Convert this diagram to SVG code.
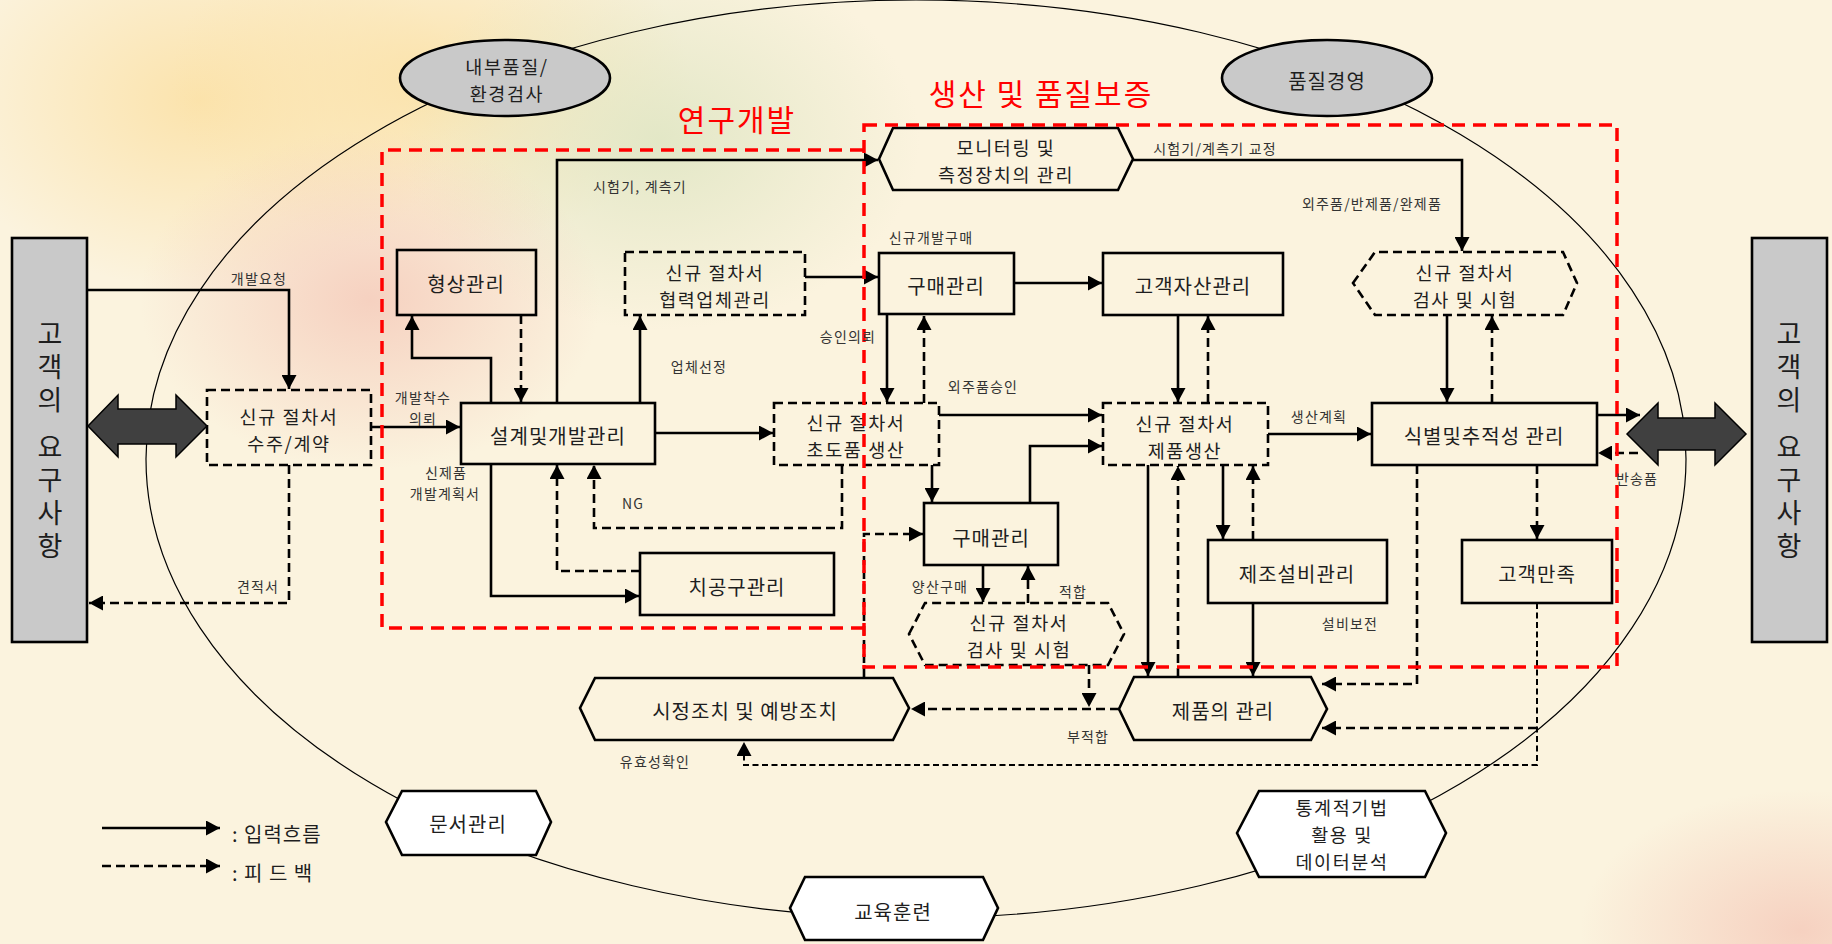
<svg xmlns="http://www.w3.org/2000/svg" width="1832" height="944" viewBox="0 0 1832 944">
<style>
text{font-family:"Noto Sans CJK KR","Noto Sans",sans-serif;fill:#1e1e1e;dominant-baseline:central;text-anchor:middle}
.t{font-size:20px;letter-spacing:1px}
.t2{font-size:18.5px;letter-spacing:1.6px}
.s{font-size:14px;letter-spacing:1.2px;fill:#333}
.vt{font-size:27px;writing-mode:vertical-rl;text-orientation:upright;text-anchor:start;letter-spacing:6px}
.title{font-size:30px;fill:#ff0000;letter-spacing:2px}
.box{fill:none;stroke:#000;stroke-width:2.6}
.dbox{fill:none;stroke:#000;stroke-width:2.6;stroke-dasharray:9 5}
.wbox{fill:#fff;stroke:#000;stroke-width:2.6}
.gray{fill:#c9c9c9;stroke:#000;stroke-width:2.6}
.c{fill:none;stroke:#000;stroke-width:2.6;marker-end:url(#ah)}
.d{fill:none;stroke:#000;stroke-width:2.6;stroke-dasharray:9 5;marker-end:url(#ah)}
.dt{fill:none;stroke:#000;stroke-width:2;stroke-dasharray:6 3.5;marker-end:url(#ah)}
.red{fill:none;stroke:#ff0000;stroke-width:3.5;stroke-dasharray:13 8}
.darr{fill:#404040;stroke:#000;stroke-width:1.5}
</style>
<defs>
<marker id="ah" markerUnits="userSpaceOnUse" markerWidth="15" markerHeight="15" refX="14" refY="7.5" orient="auto"><path d="M0,0 L14,7.5 L0,15 z" fill="#000"/></marker>
<radialGradient id="gy" cx="0.5" cy="0.5" r="0.5"><stop offset="0" stop-color="#fbe1a6" stop-opacity="0.9"/><stop offset="1" stop-color="#fbe1a6" stop-opacity="0"/></radialGradient>
<radialGradient id="gp" cx="0.5" cy="0.5" r="0.5"><stop offset="0" stop-color="#f5cbbb" stop-opacity="0.85"/><stop offset="1" stop-color="#f5cbbb" stop-opacity="0"/></radialGradient>
<radialGradient id="gg" cx="0.5" cy="0.5" r="0.5"><stop offset="0" stop-color="#e0e6c4" stop-opacity="0.9"/><stop offset="1" stop-color="#e0e6c4" stop-opacity="0"/></radialGradient>
</defs>
<g id="background">
<rect x="0" y="0" width="1832" height="944" fill="#fbf3de"/>
<ellipse cx="200" cy="100" rx="260" ry="190" fill="url(#gy)"/>
<ellipse cx="430" cy="80" rx="260" ry="170" fill="url(#gy)"/>
<ellipse cx="660" cy="140" rx="260" ry="190" fill="url(#gg)"/>
<ellipse cx="370" cy="300" rx="230" ry="170" fill="url(#gp)"/>
<ellipse cx="1800" cy="930" rx="220" ry="140" fill="url(#gp)"/>
</g>
<ellipse id="scope" cx="916" cy="459" rx="770" ry="459" fill="none" stroke="#000" stroke-width="1.2"/>

<g id="connectors">
<path class="c" d="M88,290 H289 V389"/>
<path class="c" d="M371,427 H460"/>
<path class="c" d="M491,403 V358 H412 V316"/>
<path class="c" d="M557,403 V160 H878"/>
<path class="c" d="M640,403 V316"/>
<path class="c" d="M805,277 H878"/>
<path class="c" d="M655,433 H773"/>
<path class="c" d="M491,464 V596 H639"/>
<path class="c" d="M887,314 V402"/>
<path class="c" d="M939,415 H1102"/>
<path class="c" d="M932,465 V502"/>
<path class="c" d="M1030,503 V446 H1102"/>
<path class="c" d="M983,565 V602"/>
<path class="c" d="M1014,283 H1102"/>
<path class="c" d="M1178,315 V402"/>
<path class="c" d="M1268,434 H1371"/>
<path class="c" d="M1223,465 V539"/>
<path class="c" d="M1148,465 V676"/>
<path class="c" d="M1253,603 V676"/>
<path class="c" d="M1133,160 H1462 V251"/>
<path class="c" d="M1447,315 V402"/>
<path class="c" d="M1597,415 H1640"/>
<path class="d" d="M289,465 V603 H89"/>
<path class="d" d="M521,315 V402"/>
<path class="d" d="M842,465 V528 H594 V465"/>
<path class="d" d="M640,571 H557 V465"/>
<path class="d" d="M924,403 V316"/>
<path class="d" d="M864,677 V534 H923"/>
<path class="d" d="M1028,603 V566"/>
<path class="d" d="M1208,403 V316"/>
<path class="d" d="M1253,540 V466"/>
<path class="d" d="M1178,677 V466"/>
<path class="d" d="M1492,403 V316"/>
<path class="d" d="M1537,465 V539"/>
<path class="d" d="M1638,453 H1598"/>
<path class="d" d="M1417,465 V684 H1322"/>
<path class="d" d="M1537,728 H1322"/>
<path class="dt" d="M1537,603 V765 H744 V742"/>
<path class="d" d="M1089,665 V707"/>
<path class="d" d="M1119,709 H911"/>
</g>

<g id="customer-left">
<rect class="gray" x="12" y="238" width="75" height="404"/>
<text class="vt" x="50" y="320">고객의</text>
<text class="vt" x="50" y="433">요구사항</text>
</g>
<g id="customer-right">
<rect class="gray" x="1752" y="238" width="75" height="404"/>
<text class="vt" x="1789" y="320">고객의</text>
<text class="vt" x="1789" y="433">요구사항</text>
</g>
<g id="arrow-left">
<polygon class="darr" points="88,426 118,395 118,409 176,409 176,395 207,426 176,457 176,444 118,444 118,457"/>
</g>
<g id="arrow-right">
<polygon class="darr" points="1627,434 1658,403 1658,418 1715,418 1715,403 1746,434 1715,465 1715,450 1658,450 1658,465"/>
</g>

<g id="n-iqc"><ellipse class="gray" cx="505" cy="78" rx="105" ry="38"/><text class="t2" x="507" y="65.5">내부품질/</text><text class="t2" x="507" y="92.5">환경검사</text></g>
<g id="n-qm"><ellipse class="gray" cx="1327" cy="78" rx="105" ry="38"/><text class="t" x="1327" y="80">품질경영</text></g>

<g id="n-order"><rect class="dbox" x="207" y="390" width="164" height="75"/><text class="t2" x="289" y="416">신규 절차서</text><text class="t2" x="289" y="443">수주/계약</text></g>
<g id="n-config"><rect class="box" x="397" y="250" width="139" height="65"/><text class="t" x="466" y="283">형상관리</text></g>
<g id="n-design"><rect class="box" x="461" y="403" width="194" height="61"/><text class="t" x="558" y="435">설계및개발관리</text></g>
<g id="n-partner"><rect class="dbox" x="625" y="252" width="180" height="63"/><text class="t2" x="715" y="272">신규 절차서</text><text class="t2" x="715" y="299">협력업체관리</text></g>
<g id="n-jig"><rect class="box" x="640" y="553" width="194" height="62"/><text class="t" x="737" y="586">치공구관리</text></g>
<g id="n-proto"><rect class="dbox" x="774" y="403" width="165" height="62"/><text class="t2" x="856" y="422">신규 절차서</text><text class="t2" x="856" y="449">초도품 생산</text></g>
<g id="n-monitor"><polygon class="box" points="879,159 893,128 1118,128 1133,159 1118,190 893,190"/><text class="t2" x="1006" y="147">모니터링 및</text><text class="t2" x="1006" y="174">측정장치의 관리</text></g>
<g id="n-purchase1"><rect class="box" x="879" y="253" width="135" height="61"/><text class="t" x="946" y="285">구매관리</text></g>
<g id="n-asset"><rect class="box" x="1103" y="253" width="180" height="62"/><text class="t" x="1193" y="285">고객자산관리</text></g>
<g id="n-insp1"><polygon class="dbox" points="1353,283 1375,252 1563,252 1577,283 1563,315 1375,315"/><text class="t2" x="1465" y="272">신규 절차서</text><text class="t2" x="1465" y="299">검사 및 시험</text></g>
<g id="n-prod"><rect class="dbox" x="1103" y="403" width="165" height="62"/><text class="t2" x="1185" y="422.5">신규 절차서</text><text class="t2" x="1185" y="449.5">제품생산</text></g>
<g id="n-trace"><rect class="box" x="1372" y="403" width="225" height="62"/><text class="t" x="1484" y="435">식별및추적성 관리</text></g>
<g id="n-purchase2"><rect class="box" x="924" y="503" width="134" height="62"/><text class="t" x="991" y="537">구매관리</text></g>
<g id="n-insp2"><polygon class="dbox" points="909,634 925,603 1108,603 1124,634 1108,665 925,665"/><text class="t2" x="1019" y="621.5">신규 절차서</text><text class="t2" x="1019" y="648.5">검사 및 시험</text></g>
<g id="n-equip"><rect class="box" x="1208" y="540" width="179" height="63"/><text class="t" x="1297" y="573">제조설비관리</text></g>
<g id="n-satisf"><rect class="box" x="1462" y="540" width="150" height="63"/><text class="t" x="1537" y="573">고객만족</text></g>
<g id="n-product"><polygon class="box" points="1119,709 1134,677 1311,677 1327,709 1311,740 1134,740"/><text class="t" x="1223" y="710">제품의 관리</text></g>
<g id="n-corrective"><polygon class="box" points="580,708 595,678 893,678 909,708 893,740 595,740"/><text class="t" x="745" y="710">시정조치 및 예방조치</text></g>
<g id="n-doc"><polygon class="wbox" points="386,822 402,791 536,791 551,822 536,855 402,855"/><text class="t" x="468" y="823">문서관리</text></g>
<g id="n-edu"><polygon class="wbox" points="790,908 805,877 983,877 998,908 983,940 805,940"/><text class="t" x="893" y="911">교육훈련</text></g>
<g id="n-stat"><polygon class="wbox" points="1237,833 1259,791 1425,791 1446,833 1425,877 1259,877"/><text class="t2" x="1342" y="807">통계적기법</text><text class="t2" x="1342" y="834">활용 및</text><text class="t2" x="1342" y="861">데이터분석</text></g>

<g id="frames">
<path class="red" d="M863,150 H382 V628 H863"/>
<rect class="red" x="864" y="125" width="753" height="542"/>
<text class="title" x="737" y="118">연구개발</text>
<text class="title" x="1041" y="92">생산 및 품질보증</text>
</g>

<g id="labels">
<text class="s" x="259" y="278">개발요청</text>
<text class="s" x="423" y="397">개발착수</text>
<text class="s" x="423" y="418">의뢰</text>
<text class="s" x="446" y="472">신제품</text>
<text class="s" x="445" y="493">개발계획서</text>
<text class="s" x="258" y="586">견적서</text>
<text class="s" x="640" y="186">시험기, 계측기</text>
<text class="s" x="699" y="366">업체선정</text>
<text class="s" x="633" y="503">NG</text>
<text class="s" x="931" y="237">신규개발구매</text>
<text class="s" x="848" y="336">승인의뢰</text>
<text class="s" x="983" y="386">외주품승인</text>
<text class="s" x="1215" y="148">시험기/계측기 교정</text>
<text class="s" x="1372" y="203">외주품/반제품/완제품</text>
<text class="s" x="1319" y="416">생산계획</text>
<text class="s" x="940" y="586">양산구매</text>
<text class="s" x="1073" y="591">적합</text>
<text class="s" x="1350" y="623">설비보전</text>
<text class="s" x="1637" y="478">반송품</text>
<text class="s" x="1088" y="736">부적합</text>
<text class="s" x="655" y="761">유효성확인</text>
</g>

<g id="legend">
<path class="c" d="M102,828 H220"/>
<path class="d" d="M102,866 H220"/>
<text class="t" x="232" y="833" style="text-anchor:start">:  입력흐름</text>
<text class="t" x="232" y="872" style="text-anchor:start">:  피  드  백</text>
</g>
</svg>
